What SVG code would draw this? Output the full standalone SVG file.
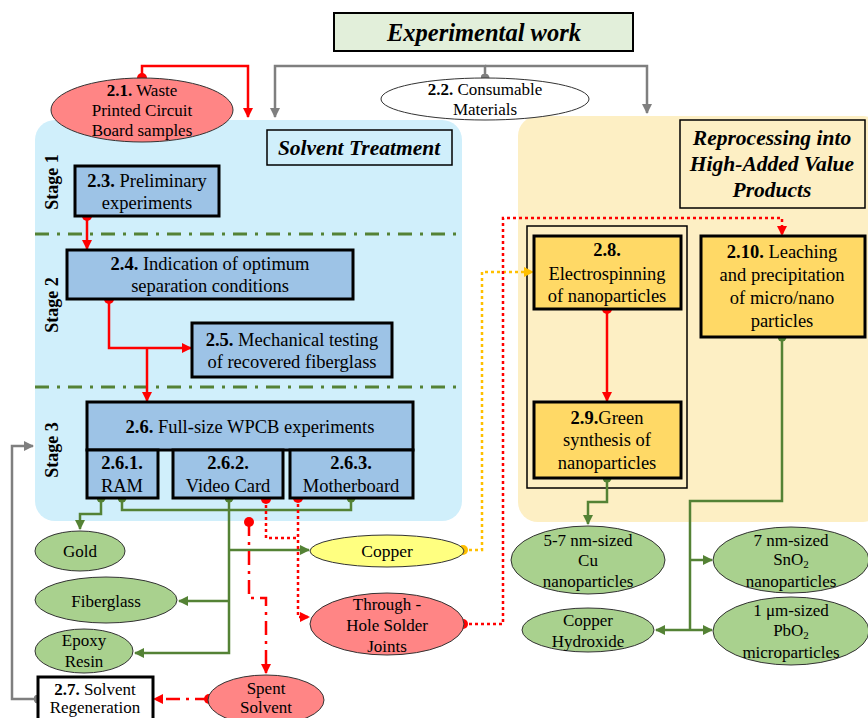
<svg xmlns="http://www.w3.org/2000/svg" width="868" height="718" viewBox="0 0 868 718">
<style>
text{font-family:"Liberation Serif","Times New Roman",serif;font-size:17px;fill:#000;text-anchor:middle}
.t{font-size:18.5px}
.b{font-weight:bold}
.bi{font-weight:bold;font-style:italic}
.h{font-weight:bold;font-style:italic;font-size:21.5px}
.st{font-weight:bold;font-size:18px}
.sub{font-size:11px}
.bx{fill:#9dc3e6;stroke:#000;stroke-width:3}
.yb{fill:#ffd966;stroke:#000;stroke-width:3}
.ge{fill:#a9d18e;stroke:#333;stroke-width:1}
.re{fill:#ff8585;stroke:#333;stroke-width:1}
.g{fill:none;stroke:#548235;stroke-width:2.5}
.r{fill:none;stroke:#ff0000;stroke-width:2.5}
.rd{fill:none;stroke:#ff0000;stroke-width:2.5;stroke-dasharray:3,3}
.rdd{fill:none;stroke:#ff0000;stroke-width:2.5;stroke-dasharray:14,6,3,6}
.od{fill:none;stroke:#ffc000;stroke-width:2.5;stroke-dasharray:3,3}
.gr{fill:none;stroke:#7f7f7f;stroke-width:2.5}
.sep{fill:none;stroke:#548235;stroke-width:3;stroke-dasharray:14,8,3,8}
</style>
<defs>
<marker id="ag" viewBox="0 0 10 10" refX="9" refY="5" markerWidth="10" markerHeight="10" markerUnits="userSpaceOnUse" orient="auto"><path d="M0,0L10,5L0,10z" fill="#548235"/></marker>
<marker id="ar" viewBox="0 0 10 10" refX="9" refY="5" markerWidth="10" markerHeight="10" markerUnits="userSpaceOnUse" orient="auto"><path d="M0,0L10,5L0,10z" fill="#ff0000"/></marker>
<marker id="ao" viewBox="0 0 10 10" refX="9" refY="5" markerWidth="10" markerHeight="10" markerUnits="userSpaceOnUse" orient="auto"><path d="M0,0L10,5L0,10z" fill="#ffc000"/></marker>
<marker id="agr" viewBox="0 0 10 10" refX="9" refY="5" markerWidth="10" markerHeight="10" markerUnits="userSpaceOnUse" orient="auto"><path d="M0,0L10,5L0,10z" fill="#7f7f7f"/></marker>
<marker id="dg" viewBox="0 0 10 10" refX="5" refY="5" markerWidth="9" markerHeight="9" markerUnits="userSpaceOnUse"><circle cx="5" cy="5" r="5" fill="#548235"/></marker>
<marker id="dr" viewBox="0 0 10 10" refX="5" refY="5" markerWidth="10" markerHeight="10" markerUnits="userSpaceOnUse"><circle cx="5" cy="5" r="5" fill="#ff0000"/></marker>
<marker id="do" viewBox="0 0 10 10" refX="5" refY="5" markerWidth="10" markerHeight="10" markerUnits="userSpaceOnUse"><circle cx="5" cy="5" r="5" fill="#ffc000"/></marker>
<marker id="dgr" viewBox="0 0 10 10" refX="5" refY="5" markerWidth="9" markerHeight="9" markerUnits="userSpaceOnUse"><circle cx="5" cy="5" r="5" fill="#7f7f7f"/></marker>
</defs>
<rect width="868" height="718" fill="#fff"/>

<!-- panels -->
<g id="panel-solvent">
<rect x="35" y="120" width="427" height="401" rx="20" fill="#d0effb"/>
<path class="sep" d="M35,234H462M35,387H462"/>
<rect x="267" y="130" width="185" height="35" fill="none" stroke="#000" stroke-width="1.5"/>
<text class="h" x="359" y="155">Solvent Treatment</text>
<text class="st" transform="translate(58,182) rotate(-90)">Stage 1</text>
<text class="st" transform="translate(58,305) rotate(-90)">Stage 2</text>
<text class="st" transform="translate(58,450) rotate(-90)">Stage 3</text>
</g>
<g id="panel-reprocessing">
<rect x="518" y="116" width="365" height="406" rx="20" fill="#fdefc4"/>
<rect x="680" y="120" width="185" height="88" fill="none" stroke="#000" stroke-width="1.5"/>
<text class="h" x="772" y="145">Reprocessing into</text>
<text class="h" x="772" y="171">High-Added Value</text>
<text class="h" x="772" y="197">Products</text>
<rect x="527" y="226" width="160" height="262" fill="none" stroke="#000" stroke-width="1.5"/>
</g>

<!-- connectors -->
<g id="connectors">
<path class="r" d="M142,78V66H248V117" marker-start="url(#dr)" marker-end="url(#ar)"/>
<path class="gr" d="M485,78V66H275V117" marker-start="url(#dgr)" marker-end="url(#agr)"/>
<path class="gr" d="M485,66H647V113" marker-end="url(#agr)"/>
<path class="r" d="M87,216V249" marker-start="url(#dr)" marker-end="url(#ar)"/>
<path class="r" d="M109,299V348H191" marker-start="url(#dr)" marker-end="url(#ar)"/>
<path class="r" d="M147,348V401" marker-end="url(#ar)"/>
<path class="g" d="M101,498V514H80V529" marker-start="url(#dg)" marker-end="url(#ag)"/>
<path class="g" d="M122,498V510H351V498" marker-start="url(#dg)" marker-end="url(#dg)"/>
<path class="g" d="M229,498V653H135" marker-start="url(#dg)" marker-end="url(#ag)"/>
<path class="g" d="M229,550H309" marker-end="url(#ag)"/>
<path class="g" d="M229,601H179" marker-end="url(#ag)"/>
<path class="rd" d="M266,499V538H298" marker-start="url(#dr)"/>
<path class="rd" d="M298,498V617H309" marker-start="url(#dr)" marker-end="url(#ar)"/>
<path class="rdd" d="M249,522V598H266V673" marker-start="url(#dr)" marker-end="url(#ar)"/>
<path class="rdd" d="M209,699H154" marker-start="url(#dr)" marker-end="url(#ar)"/>
<path class="gr" d="M38,699H12V446H33" marker-start="url(#dgr)" marker-end="url(#agr)"/>
<path class="od" d="M463,550H482V272H533" marker-start="url(#do)" marker-end="url(#ao)"/>
<path class="rd" d="M463,624H503V218H782V235" marker-start="url(#dr)" marker-end="url(#ar)"/>
<path class="r" d="M607,309V401" marker-start="url(#dr)" marker-end="url(#ar)"/>
<path class="g" d="M607,478V502H588V524" marker-start="url(#dg)" marker-end="url(#ag)"/>
<path class="g" d="M782,337V501H690V630" marker-start="url(#dg)"/>
<path class="g" d="M690,560H712" marker-end="url(#ag)"/>
<path class="g" d="M690,630H712" marker-end="url(#ag)"/>
<path class="g" d="M690,630H656" marker-end="url(#ag)"/>
</g>

<!-- nodes -->
<g id="title">
<rect x="334" y="13" width="299" height="38" fill="#e2efda" stroke="#000" stroke-width="2"/>
<text class="bi" x="484" y="41" style="font-size:24.5px">Experimental work</text>
</g>
<g id="n2-1">
<ellipse class="re" cx="142" cy="110" rx="91" ry="32"/>
<text x="142" y="96"><tspan class="b">2.1.</tspan> Waste</text>
<text x="142" y="116">Printed Circuit</text>
<text x="142" y="136">Board samples</text>
</g>
<g id="n2-2">
<ellipse cx="485" cy="99" rx="104" ry="21" fill="#fff" stroke="#333" stroke-width="1"/>
<text x="485" y="95"><tspan class="b">2.2.</tspan> Consumable</text>
<text x="485" y="115">Materials</text>
</g>
<g id="n2-3">
<rect class="bx" x="75" y="166" width="144" height="50"/>
<text class="t" x="147" y="187"><tspan class="b">2.3.</tspan> Preliminary</text>
<text class="t" x="147" y="209">experiments</text>
</g>
<g id="n2-4">
<rect class="bx" x="67" y="250" width="286" height="49"/>
<text class="t" x="210" y="270"><tspan class="b">2.4.</tspan> Indication of optimum</text>
<text class="t" x="210" y="292">separation conditions</text>
</g>
<g id="n2-5">
<rect class="bx" x="192" y="323" width="200" height="54"/>
<text class="t" x="292" y="346"><tspan class="b">2.5.</tspan> Mechanical testing</text>
<text class="t" x="292" y="368">of recovered fiberglass</text>
</g>
<g id="n2-6">
<rect class="bx" x="87" y="402" width="326" height="48"/>
<text class="t" x="250" y="433"><tspan class="b">2.6.</tspan> Full-size WPCB experiments</text>
</g>
<g id="n2-6-1">
<rect class="bx" x="87" y="450" width="71" height="48"/>
<text class="t b" x="122" y="469">2.6.1.</text>
<text class="t" x="122" y="492">RAM</text>
</g>
<g id="n2-6-2">
<rect class="bx" x="173" y="450" width="110" height="48"/>
<text class="t b" x="228" y="469">2.6.2.</text>
<text class="t" x="228" y="492">Video Card</text>
</g>
<g id="n2-6-3">
<rect class="bx" x="290" y="450" width="123" height="48"/>
<text class="t b" x="351" y="469">2.6.3.</text>
<text class="t" x="351" y="492">Motherboard</text>
</g>
<g id="gold">
<ellipse class="ge" cx="80" cy="551" rx="45" ry="20"/>
<text x="80" y="557">Gold</text>
</g>
<g id="fiberglass">
<ellipse class="ge" cx="106" cy="600" rx="71" ry="23"/>
<text x="106" y="607">Fiberglass</text>
</g>
<g id="epoxy">
<ellipse class="ge" cx="84" cy="651" rx="49" ry="22"/>
<text x="84" y="646">Epoxy</text>
<text x="84" y="667">Resin</text>
</g>
<g id="copper">
<ellipse cx="387" cy="551" rx="77" ry="16" fill="#ffff80" stroke="#333" stroke-width="1"/>
<text x="387" y="557" style="font-size:17.5px">Copper</text>
</g>
<g id="through-hole">
<ellipse class="re" cx="387" cy="624" rx="77" ry="31"/>
<text x="387" y="610">Through -</text>
<text x="387" y="631">Hole Solder</text>
<text x="387" y="652">Joints</text>
</g>
<g id="spent-solvent">
<ellipse class="re" cx="266" cy="700" rx="58" ry="25"/>
<text x="266" y="694">Spent</text>
<text x="266" y="713">Solvent</text>
</g>
<g id="n2-7">
<rect x="38" y="677" width="115" height="50" fill="#fff" stroke="#000" stroke-width="3"/>
<text x="95" y="695"><tspan class="b">2.7.</tspan> Solvent</text>
<text x="95" y="713">Regeneration</text>
</g>
<g id="n2-8">
<rect class="yb" x="534" y="236" width="147" height="73"/>
<text class="t b" x="607" y="256">2.8.</text>
<text class="t" x="607" y="280">Electrospinning</text>
<text class="t" x="607" y="302">of nanoparticles</text>
</g>
<g id="n2-9">
<rect class="yb" x="534" y="402" width="147" height="76"/>
<text class="t" x="607" y="424"><tspan class="b">2.9.</tspan>Green</text>
<text class="t" x="607" y="446">synthesis of</text>
<text class="t" x="607" y="469">nanoparticles</text>
</g>
<g id="n2-10">
<rect class="yb" x="701" y="236" width="164" height="101"/>
<text class="t" x="782" y="258"><tspan class="b">2.10.</tspan> Leaching</text>
<text class="t" x="782" y="281">and precipitation</text>
<text class="t" x="782" y="304">of micro/nano</text>
<text class="t" x="782" y="327">particles</text>
</g>
<g id="cu-nano">
<ellipse class="ge" cx="588" cy="560" rx="77" ry="34"/>
<text x="588" y="546">5-7 nm-sized</text>
<text x="588" y="566">Cu</text>
<text x="588" y="587">nanoparticles</text>
</g>
<g id="cu-hydroxide">
<ellipse class="ge" cx="588" cy="630" rx="66" ry="22"/>
<text x="588" y="626">Copper</text>
<text x="588" y="647">Hydroxide</text>
</g>
<g id="sno2">
<ellipse class="ge" cx="791" cy="560" rx="78" ry="33"/>
<text x="791" y="546">7 nm-sized</text>
<text x="791" y="565">SnO<tspan class="sub" dy="3">2</tspan></text>
<text x="791" y="587">nanoparticles</text>
</g>
<g id="pbo2">
<ellipse class="ge" cx="791" cy="631" rx="78" ry="34"/>
<text x="791" y="616">1 μm-sized</text>
<text x="791" y="636">PbO<tspan class="sub" dy="3">2</tspan></text>
<text x="791" y="658">microparticles</text>
</g>
</svg>
